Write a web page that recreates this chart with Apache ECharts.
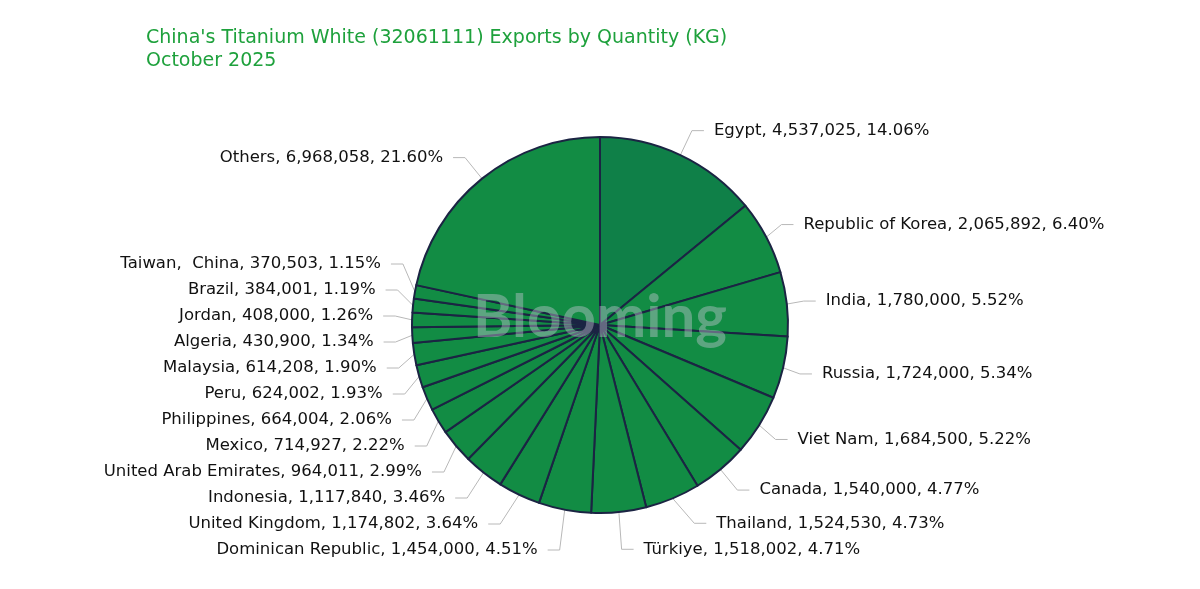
<!DOCTYPE html>
<html>
<head>
<meta charset="utf-8">
<script src="https://cdn.jsdelivr.net/npm/echarts@6/dist/echarts.min.js"></script>
<style>
  html, body { margin: 0; padding: 0; background: #fff; }
  #chart { width: 1200px; height: 589px; }
</style>
</head>
<body>
<div id="chart"></div>
<script>
// 数据
const countries = ['Egypt', 'Republic of Korea', 'India', 'Russia', 'Viet Nam', 'Canada', 'Thailand',
  'Türkiye', 'Dominican Republic', 'United Kingdom', 'Indonesia', 'United Arab Emirates', 'Mexico',
  'Philippines', 'Peru', 'Malaysia', 'Algeria', 'Jordan', 'Brazil', 'Taiwan,  China', 'Others'];
const quantities = [4537025, 2065892, 1780000, 1724000, 1684500, 1540000, 1524530,
  1518002, 1454000, 1174802, 1117840, 964011, 714927,
  664004, 624002, 614208, 430900, 408000, 384001, 370503, 6968058];
const shares = ['14.06', '6.40', '5.52', '5.34', '5.22', '4.77', '4.73',
  '4.71', '4.51', '3.64', '3.46', '2.99', '2.22',
  '2.06', '1.93', '1.90', '1.34', '1.26', '1.19', '1.15', '21.60'];

const chart = echarts.init(document.getElementById('chart'));

const pieData = countries.map((name, i) => ({
  name: name,
  value: quantities[i],
  itemStyle: { color: i === 0 ? '#0f8048' : '#128c44' }
}));

chart.setOption({
  animation: false,
  title: {
    text: "China's Titanium White (32061111) Exports by Quantity (KG)\nOctober 2025",
    left: 141,
    top: 22,
    textStyle: {
      color: '#1ea13c',
      fontSize: 19,
      fontWeight: 'normal',
      fontFamily: 'DejaVu Sans',
      lineHeight: 23
    }
  },
  graphic: [{
    type: 'text',
    left: 'center',
    top: 288,
    z: 100,
    style: {
      text: 'Blooming',
      fontSize: 60,
      fontWeight: 'bold',
      fontFamily: 'Lato',
      fill: 'rgba(200,200,215,0.42)'
    }
  }],
  series: [{
    type: 'pie',
    top: 0,
    bottom: 26,
    center: [600, 325],
    radius: 188,
    startAngle: 90,
    clockwise: true,
    data: pieData,
    itemStyle: {
      borderColor: '#1b2443',
      borderWidth: 2
    },
    label: {
      color: '#111',
      fontSize: 16.5,
      lineHeight: 24,
      fontFamily: 'DejaVu Sans',
      distanceToLabelLine: 10,
      formatter: p => p.name + ', ' + p.value.toLocaleString('en-US') + ', ' + shares[p.dataIndex] + '%'
    },
    labelLine: {
      length: 27,
      length2: 12,
      lineStyle: { color: '#b8b8b8', width: 1 }
    }
  }]
});
</script>
</body>
</html>
